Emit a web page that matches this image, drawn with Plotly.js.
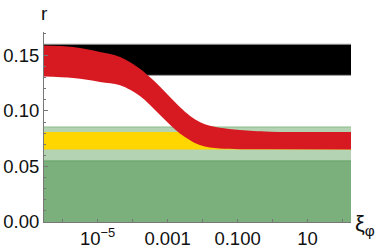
<!DOCTYPE html>
<html>
<head>
<meta charset="utf-8">
<script src="https://cdn.plot.ly/plotly-3.0.1.min.js"></script>
<style>html,body{margin:0;padding:0;background:#fff;}#chart{width:379px;height:252px;}</style>
</head>
<body>
<div id="chart"></div>
<script>
// ---- data ----
const xi    = [2e-7, 2e-6, 1.17e-5, 4.4e-5, 1.62e-4, 3.1e-4, 6e-4, 1.17e-3, 2.24e-3, 4.4e-3, 8.3e-3, 1.62e-2, 3.1e-2, 0.117, 0.85, 316];
const redHi = [0.159, 0.1575, 0.153, 0.1485, 0.138, 0.1305, 0.122, 0.1125, 0.1035, 0.0955, 0.0900, 0.0866, 0.0848, 0.0828, 0.0813, 0.081];
const redLo = [0.131, 0.1295, 0.126, 0.123, 0.1135, 0.1055, 0.0965, 0.0875, 0.0797, 0.0736, 0.0692, 0.0670, 0.0661, 0.0655, 0.0654, 0.0653];
const bandX  = [2e-7, 316];
const blackBand  = [0.132, 0.160];
const yellowBand = [0.0653, 0.081];
const lightGreenTop = 0.0855;
const darkGreenTop  = 0.055;
const xTickVals  = [1e-5, 1e-3, 0.1, 10];
const xTickText  = ['10<sup>−5</sup>', '0.001', '0.100', '10'];
const xMinorVals = [1e-6, 1e-4, 0.01, 1, 100];

const flat = (v) => bandX.map(() => v);
const traces = [
  {x: bandX, y: flat(lightGreenTop), mode: 'lines', fill: 'tozeroy',
   fillcolor: 'rgb(179,211,179)', line: {color: 'rgb(140,186,140)', width: 1}},
  {x: bandX, y: flat(darkGreenTop), mode: 'lines', fill: 'tozeroy',
   fillcolor: 'rgb(123,175,123)', line: {color: 'rgb(105,160,105)', width: 1}},
  {x: bandX, y: flat(yellowBand[0]), mode: 'lines', line: {width: 0}},
  {x: bandX, y: flat(yellowBand[1]), mode: 'lines', fill: 'tonexty',
   fillcolor: 'rgb(255,214,0)', line: {width: 0}},
  {x: bandX, y: flat(blackBand[0]), mode: 'lines', line: {color: '#999', width: 1}},
  {x: bandX, y: flat(blackBand[1]), mode: 'lines', fill: 'tonexty',
   fillcolor: '#000', line: {color: '#999', width: 1}},
  {x: xi, y: redLo, mode: 'lines', line: {width: 0, shape: 'spline', smoothing: 1}},
  {x: xi, y: redHi, mode: 'lines', fill: 'tonexty', fillcolor: 'rgb(215,26,33)',
   line: {width: 0, shape: 'spline', smoothing: 1}}
];

const font = {family: 'Liberation Sans, Arial, sans-serif', size: 18.5, color: '#111'};
const layout = {
  width: 379, height: 252,
  margin: {l: 44, r: 28, t: 32, b: 30},
  paper_bgcolor: '#fff', plot_bgcolor: '#fff',
  showlegend: false,
  font: font,
  xaxis: {
    type: 'log', range: [-6.53, 2.24],
    tickmode: 'array', tickvals: xTickVals, ticktext: xTickText,
    ticks: 'inside', ticklen: 3, tickcolor: '#777',
    minor: {tickmode: 'array', tickvals: xMinorVals, ticks: 'inside', ticklen: 3, tickcolor: '#777'},
    showline: true, linecolor: '#777', linewidth: 1,
    showgrid: false, zeroline: false, tickfont: font
  },
  yaxis: {
    range: [0, 0.171], dtick: 0.05, tickformat: '.2f',
    ticks: 'inside', ticklen: 4, tickcolor: '#777',
    minor: {dtick: 0.01, ticks: 'inside', ticklen: 2, tickcolor: '#777'},
    showline: true, linecolor: '#777', linewidth: 1,
    showgrid: false, zeroline: false, tickfont: font
  },
  annotations: [
    {text: 'r', xref: 'paper', yref: 'paper', x: 0, y: 1, xanchor: 'center', yanchor: 'bottom',
     yshift: 6, showarrow: false, font: {family: font.family, size: 19, color: '#111'}},
    {text: 'ξ<sub>φ</sub>', xref: 'paper', yref: 'paper', x: 1, y: 0, xanchor: 'left', yanchor: 'middle',
     xshift: 2, yshift: -3, showarrow: false, font: {family: font.family, size: 22, color: '#111'}}
  ]
};
Plotly.newPlot('chart', traces, layout, {staticPlot: true, displayModeBar: false});
</script>
</body>
</html>
